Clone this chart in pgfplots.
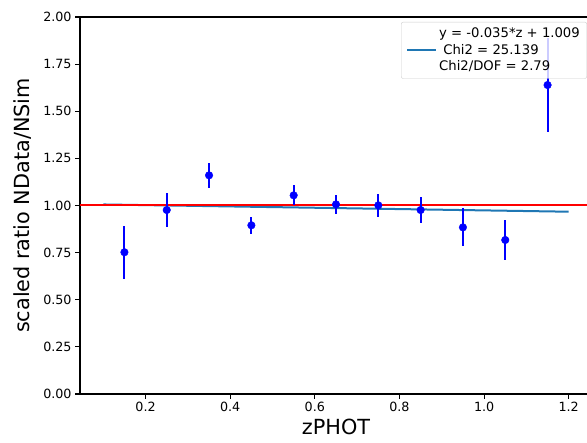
\documentclass[border=0pt]{standalone}
\usepackage{pgfplots}
\pgfplotsset{compat=1.18}
\usepackage{fontspec}
\setmainfont{DejaVu Sans}
\definecolor{tabblue}{HTML}{1F77B4}
\pgfplotstableread{
x y e
0.15 0.752 0.141
0.25 0.976 0.088
0.35 1.160 0.066
0.45 0.895 0.046
0.55 1.054 0.053
0.65 1.006 0.050
0.75 1.001 0.062
0.85 0.976 0.067
0.95 0.884 0.101
1.05 0.817 0.104
1.15 1.639 0.251
}\datatable
\begin{document}
\begin{tikzpicture}[x=1pt,y=1pt]
\useasboundingbox (0,0) rectangle (587,443);
\clip (0,0) rectangle (587,443);
\begin{axis}[
  at={(80pt,49pt)}, anchor=south west,
  scale only axis, width=512pt, height=377pt,
  xmin=0.045, xmax=1.255, ymin=0, ymax=2,
  xtick={0.2,0.4,0.6,0.8,1.0,1.2},
  ytick={0,0.25,0.5,0.75,1,1.25,1.5,1.75,2},
  xtick pos=left, ytick pos=left,
  tick align=outside, major tick length=4.9pt,
  tick style={line width=1.1pt, black},
  axis line style={line width=1.1pt, black},
  ticklabel style={font=\fontsize{12.7}{14}\selectfont},
  /pgf/number format/assume math mode=true,
  xticklabel style={/pgf/number format/.cd, fixed, fixed zerofill, precision=1},
  yticklabel style={/pgf/number format/.cd, fixed, fixed zerofill, precision=2},
  xlabel={zPHOT}, ylabel={scaled ratio NData/NSim},
  label style={font=\fontsize{20.8}{24}\selectfont},
  ylabel style={yshift=5pt},
  legend style={at={(1,1)}, anchor=north east, xshift=-5pt, yshift=-5pt,
    draw=black!20, rounded corners=2pt, fill=white, fill opacity=0.8, text opacity=1,
    inner xsep=5pt, inner ysep=4pt,
    font=\fontsize{13.2}{16.5}\selectfont, cells={align=left}},
  legend image code/.code={\draw[#1] (-3pt,0pt) -- (26pt,0pt);},
]
\addplot[tabblue, line width=2pt] coordinates {(0.1,1.0055) (1.2,0.967)};
\addlegendentry{y = -0.035*z + 1.009\\\ Chi2 = 25.139\\Chi2/DOF = 2.79}
\addplot[red, line width=2pt, forget plot] coordinates {(0.045,1) (1.255,1)};
\addplot[blue, only marks, mark=*, mark size=3.8pt, mark options={fill=blue, draw=blue}, forget plot,
  error bars/.cd, y dir=both, y explicit, error mark=none,
  error bar style={line width=2pt, blue}]
  table[x=x, y=y, y error=e] {\datatable};
\end{axis}
\end{tikzpicture}
\end{document}
